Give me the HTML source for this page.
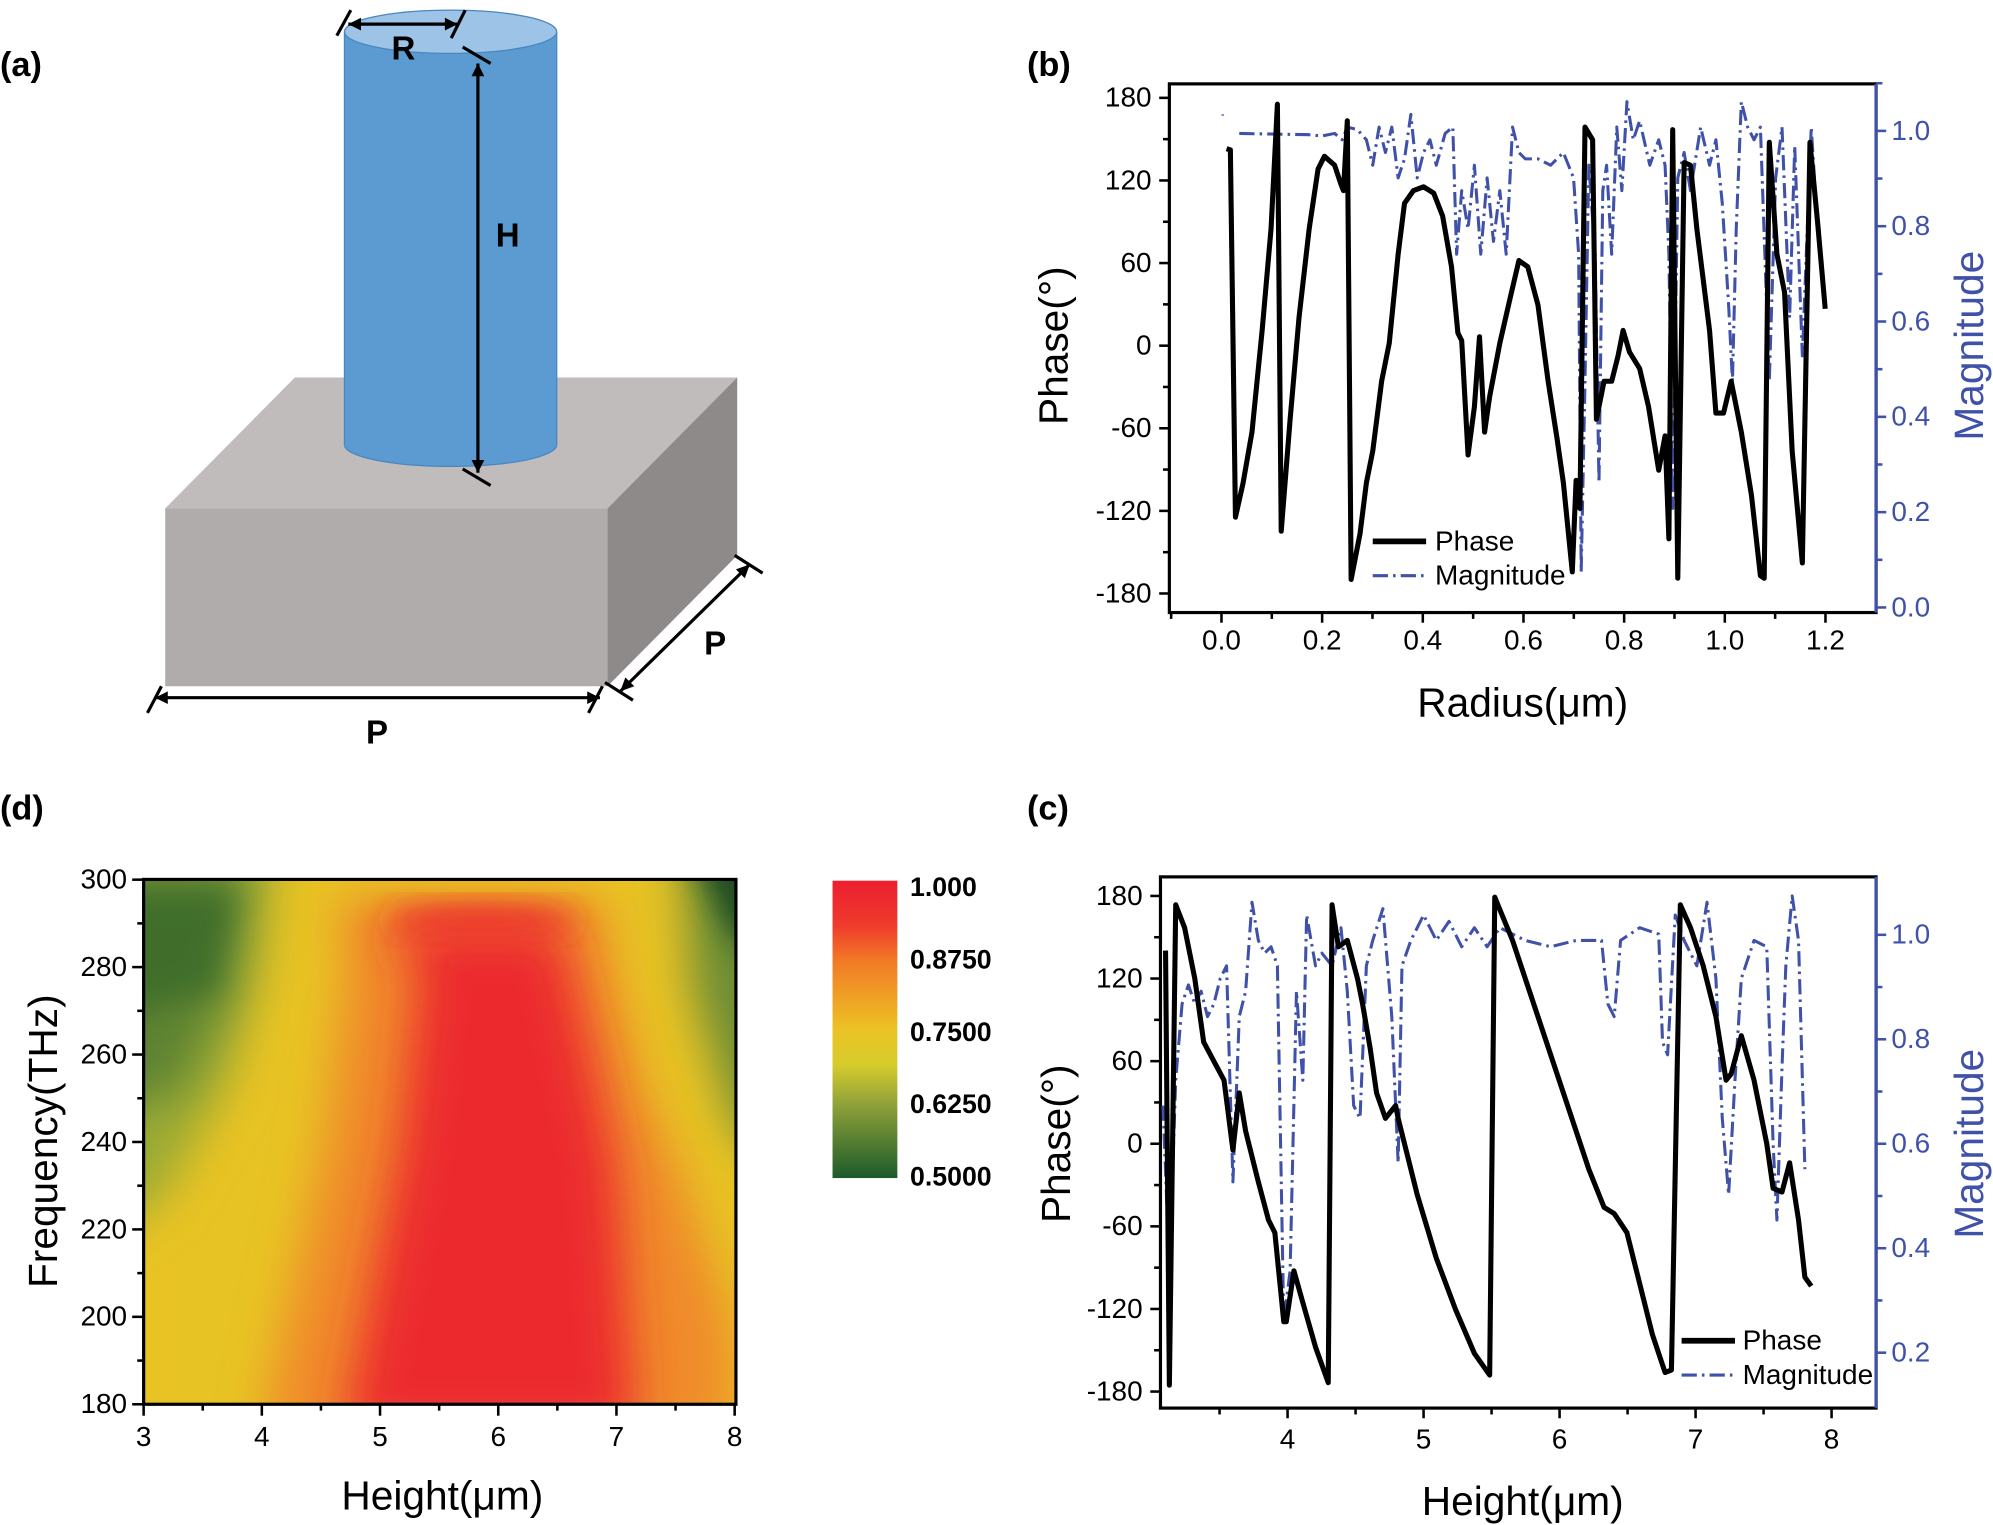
<!DOCTYPE html>
<html><head><meta charset="utf-8"><style>
html,body{margin:0;padding:0;background:#fff;}
svg{display:block;}
text{font-family:"Liberation Sans",sans-serif;}
.t{font-size:22px;fill:#000;}
.tb{font-size:22px;fill:#3f51a8;}
</style></head><body>
<svg id="s" width="1993" height="1525" viewBox="0 0 1568 1200" preserveAspectRatio="none" xmlns="http://www.w3.org/2000/svg">
<defs>
<filter id="bl" x="-50%" y="-50%" width="200%" height="200%"><feGaussianBlur stdDeviation="18"/></filter>
<filter id="bl2" x="-50%" y="-50%" width="200%" height="200%"><feGaussianBlur stdDeviation="12"/></filter>
<clipPath id="hc"><rect x="113" y="692" width="466" height="413"/></clipPath>
<linearGradient id="cb" x1="0" y1="0" x2="0" y2="1">
<stop offset="0" stop-color="#ec1e2e"/><stop offset="0.15" stop-color="#ee3b2c"/><stop offset="0.27" stop-color="#f27a26"/><stop offset="0.5" stop-color="#ecc224"/><stop offset="0.62" stop-color="#d6cc2c"/><stop offset="0.75" stop-color="#91a23a"/><stop offset="1" stop-color="#1c5a2a"/></linearGradient>
</defs>
<g font-weight="bold" font-size="27">
<text x="0" y="60">(a)</text><text x="808" y="60">(b)</text><text x="0" y="645">(d)</text><text x="808" y="645">(c)</text>
</g>
<polygon points="130,400 232,297 580,297 478,400" fill="#c0bcbb"/>
<rect x="130" y="400" width="348" height="140" fill="#afacab"/>
<polygon points="478,400 580,297 580,437 478,540" fill="#8d8a89"/>
<ellipse cx="354.5" cy="350" rx="83.5" ry="17" fill="#5b9bd1" stroke="#4a86c0" stroke-width="1"/>
<rect x="271" y="25" width="167" height="326" fill="#5b9bd1"/>
<line x1="271" y1="25" x2="271" y2="350" stroke="#4a86c0"/><line x1="438" y1="25" x2="438" y2="350" stroke="#4a86c0"/>
<ellipse cx="354.5" cy="25" rx="83.5" ry="17" fill="#9dc3e6" stroke="#4a86c0" stroke-width="1"/>
<g stroke="#000" stroke-width="2.5" fill="none">
<line x1="274" y1="19" x2="360" y2="19"/><line x1="265" y1="28" x2="276" y2="8"/><line x1="355" y1="30" x2="366" y2="8"/>
<line x1="376" y1="50" x2="376" y2="372"/><line x1="364" y1="37" x2="386" y2="50"/><line x1="364" y1="369" x2="386" y2="382"/>
<line x1="122" y1="549" x2="472" y2="549"/><line x1="116" y1="561" x2="127" y2="540"/><line x1="463" y1="561" x2="474" y2="540"/>
<line x1="488" y1="544" x2="590" y2="444"/><line x1="476" y1="537" x2="498" y2="551"/><line x1="578" y1="437" x2="600" y2="451"/>
</g>
<g fill="#000"><polygon points="122,549 132,544 132,554"/><polygon points="472,549 462,544 462,554"/>
<polygon points="376,50 371,60 381,60"/><polygon points="376,372 371,362 381,362"/>
<polygon points="274,19 284,14 284,24"/><polygon points="360,19 350,14 350,24"/>
<polygon points="488,544 492,533 499,540"/><polygon points="590,444 586,455 579,448"/></g>
<g font-size="26" font-weight="bold"><text x="308" y="47">R</text><text x="390" y="194">H</text><text x="288" y="585">P</text><text x="554" y="515">P</text></g>
<g clip-path="url(#hc)">
<rect x="100" y="680" width="500" height="440" fill="#e8c324"/>
<polygon points="60,660 215,660 205,760 180,850 130,940 60,990" fill="#9aaa36" filter="url(#bl)"/>
<polygon points="60,680 195,680 180,780 140,860 60,880" fill="#5d8232" filter="url(#bl)"/>
<polygon points="90,700 185,700 170,780 90,800" fill="#3f6e2a" filter="url(#bl2)"/>
<polygon points="535,650 640,650 640,940 580,890 545,780" fill="#6b8c34" filter="url(#bl)"/>
<polygon points="540,660 640,660 640,780 575,735" fill="#1e4a22" filter="url(#bl2)"/>
<polygon points="205,1130 580,1130 575,1040 535,920 508,860 484,770 474,708 265,708 272,760 255,900" fill="#f08a2a" filter="url(#bl)"/>
<polygon points="270,1130 500,1130 485,920 465,830 445,748 440,730 300,730 330,760 315,900" fill="#ec2a2e" filter="url(#bl)"/>
<ellipse cx="380" cy="724" rx="75" ry="11" fill="#ec2a2e" filter="url(#bl2)"/>
</g>
<rect x="113" y="692" width="466" height="413" fill="none" stroke="#000" stroke-width="2.5"/>
<rect x="655" y="693" width="51" height="234" fill="url(#cb)"/>
<g font-size="21" font-weight="bold"><text x="716" y="705">1.000</text><text x="716" y="762">0.8750</text><text x="716" y="819">0.7500</text><text x="716" y="876">0.6250</text><text x="716" y="933">0.5000</text></g>
<g id="g"></g>
<g font-size="32"><text x="348" y="1188" text-anchor="middle">Height(μm)</text>
<text transform="translate(45,898) rotate(-90)" text-anchor="middle">Frequency(THz)</text>
<text x="1198" y="564" text-anchor="middle">Radius(μm)</text>
<text transform="translate(840,272) rotate(-90)" text-anchor="middle">Phase(°)</text>
<text transform="translate(1560,272) rotate(-90)" text-anchor="middle" fill="#3f51a8">Magnitude</text>
<text x="1198" y="1192" text-anchor="middle">Height(μm)</text>
<text transform="translate(842,900) rotate(-90)" text-anchor="middle">Phase(°)</text>
<text transform="translate(1560,900) rotate(-90)" text-anchor="middle" fill="#3f51a8">Magnitude</text></g>
</svg>
<script>
var g=document.getElementById('g'),NS='http://www.w3.org/2000/svg';
function el(t,a,txt){var e=document.createElementNS(NS,t);for(var k in a)e.setAttribute(k,a[k]);if(txt!=null)e.textContent=txt;g.appendChild(e);return e;}
function L(x1,y1,x2,y2,c,w){el('line',{x1:x1,y1:y1,x2:x2,y2:y2,stroke:c||'#000','stroke-width':w||2});}
function T(x,y,s,cls,anc){el('text',{x:x,y:y,'class':cls||'t','text-anchor':anc||'middle'},s);}
for(var i=0;i<=10;i++){var x=113+i*46.5;L(x,1105,x,i%2?1110:1114);if(i%2==0)T(x,1138,String(3+i/2));}
for(var i=0;i<=12;i++){var y=1105-i*34.4;L(113,y,i%2?108:104,y);if(i%2==0)T(100,y+7,String(180+i*10),'t','end');}
el('rect',{x:920,y:66,width:556,height:416,fill:'none',stroke:'#000','stroke-width':2.5});
L(1476,66,1476,482,'#3f51a8',2.5);
function bx(v){return 961+v*396;}
for(var i=-1;i<=13;i++){var x=bx(i*0.1);if(x<921||x>1475)continue;L(x,482,x,i%2?487:490);if(i%2==0&&i>=0)T(x,511,(i/10).toFixed(1));}
for(var i=-6;i<=6;i++){var y=272-i*30*195/180;L(920,y,i%2?915:912,y);if(i%2==0)T(906,y+7,String(i*30),'t','end');}
for(var i=0;i<=11;i++){var y=478-i*0.1*375;L(1476,y,1476+(i%2?5:8),y,'#3f51a8',2);if(i%2==0)T(1488,y+7,(i/10).toFixed(1),'tb','start');}
function P(pts,c,w,d){el('polyline',{points:pts,fill:'none',stroke:c,'stroke-width':w,'stroke-dasharray':d||'none','stroke-linejoin':'round'});}
P("962,90 962,91",'#3f51a8',2);
P("975,105 1030,106 1040,107 1050,105 1056,110 1060,100 1068,102 1075,110 1080,130 1085,100 1090,120 1095,100 1100,140 1105,125 1110,90 1115,140 1120,120 1125,110 1130,130 1137,105 1143,100 1146,200 1150,150 1155,180 1160,130 1165,200 1170,140 1175,190 1180,150 1185,200 1190,100 1195,120 1200,125 1210,125 1220,130 1230,120 1238,140 1242,200 1244,450 1247,300 1250,130 1255,200 1258,380 1261,150 1264,130 1268,200 1272,100 1276,150 1280,80 1285,110 1290,95 1298,130 1305,110 1310,130 1313,200 1316,400 1320,140 1325,120 1330,150 1338,100 1345,130 1350,110 1355,160 1360,240 1363,300 1366,180 1370,80 1375,100 1380,110 1385,100 1392,300 1397,140 1402,100 1408,250 1412,115 1418,280 1425,100 1430,180 1436,240",'#3f51a8',2.4,'12,4,2,4');
P("965,117 968,118 972,407 978,380 985,340 993,260 1000,180 1005,82 1008,418 1015,330 1022,250 1030,180 1037,133 1042,123 1050,130 1055,145 1057,150 1060,95 1063,456 1070,420 1075,380 1080,355 1087,300 1093,270 1100,200 1105,160 1112,150 1120,147 1128,152 1135,170 1142,210 1147,262 1150,268 1155,358 1160,320 1164,265 1168,340 1172,312 1180,270 1188,235 1195,205 1202,210 1210,240 1218,300 1225,345 1230,380 1237,450 1240,378 1243,400 1247,100 1253,110 1256,330 1262,300 1268,300 1273,280 1277,260 1282,277 1290,290 1297,320 1305,370 1310,343 1313,424 1316,102 1320,455 1325,128 1330,130 1335,180 1345,260 1350,325 1356,325 1362,300 1370,340 1378,390 1385,453 1388,455 1392,112 1398,200 1404,230 1410,355 1418,443 1424,112 1430,175 1436,243",'#000',4);
L(1080,426,1122,426,'#000',4.5);T(1129,433,'Phase','t','start');
P("1080,453 1122,453",'#3f51a8',2.5,'12,4,2,4');T(1129,460,'Magnitude','t','start');
el('rect',{x:913,y:690,width:563,height:418,fill:'none',stroke:'#000','stroke-width':2.5});
L(1476,690,1476,1108,'#3f51a8',2.5);
function cx(v){return 1013+(v-4)*107;}
for(var i=6;i<=16;i++){var x=cx(i/2);if(x<914)continue;L(x,1108,x,i%2?1113:1116);if(i%2==0)T(x,1140,String(i/2));}
for(var i=-6;i<=6;i++){var y=900-i*30*195/180;L(913,y,i%2?908:905,y);if(i%2==0)T(899,y+7,String(i*30),'t','end');}
for(var i=2;i<=10;i++){var y=900-(i/10-0.6)*411;L(1476,y,1476+(i%2?5:8),y,'#3f51a8',2);if(i%2==0)T(1488,y+7,(i/10).toFixed(1),'tb','start');}
P("915,870 920,1000 925,850 930,790 935,775 940,790 945,780 950,800 955,790 960,770 965,760 970,930 975,800 980,780 985,710 990,740 995,750 1000,745 1005,760 1010,1040 1015,1000 1020,780 1025,850 1028,720 1035,760 1040,750 1048,760 1055,730 1060,780 1065,870 1070,880 1075,760 1080,740 1088,715 1095,800 1100,915 1103,760 1110,740 1120,720 1130,740 1140,725 1150,745 1160,730 1170,745 1180,730 1200,740 1220,745 1240,740 1260,740 1265,790 1270,800 1275,740 1290,730 1305,735 1308,820 1312,830 1318,720 1325,740 1335,760 1343,710 1350,770 1355,880 1360,940 1365,850 1370,770 1380,740 1390,745 1395,900 1398,960 1402,840 1405,760 1410,705 1415,740 1420,920",'#3f51a8',2.4,'12,4,2,4');
P("917,748 920,1090 925,712 932,730 940,770 947,820 955,835 963,850 970,905 975,860 980,890 990,930 998,960 1003,970 1010,1040 1012,1040 1018,1000 1025,1025 1035,1060 1045,1088 1048,712 1053,745 1060,740 1068,770 1072,790 1078,825 1083,860 1090,880 1098,870 1100,880 1115,940 1130,990 1145,1030 1160,1065 1172,1082 1176,706 1190,740 1210,800 1230,860 1250,920 1262,950 1270,955 1280,970 1290,1010 1300,1050 1310,1080 1315,1078 1322,712 1330,730 1340,760 1350,800 1358,850 1362,845 1370,815 1380,850 1390,900 1395,935 1402,938 1408,915 1415,960 1420,1005 1425,1012",'#000',4);
L(1323,1055,1365,1055,'#000',4.5);T(1371,1062,'Phase','t','start');
P("1323,1082 1365,1082",'#3f51a8',2.5,'12,4,2,4');T(1371,1089,'Magnitude','t','start');
</script>
</body></html>
